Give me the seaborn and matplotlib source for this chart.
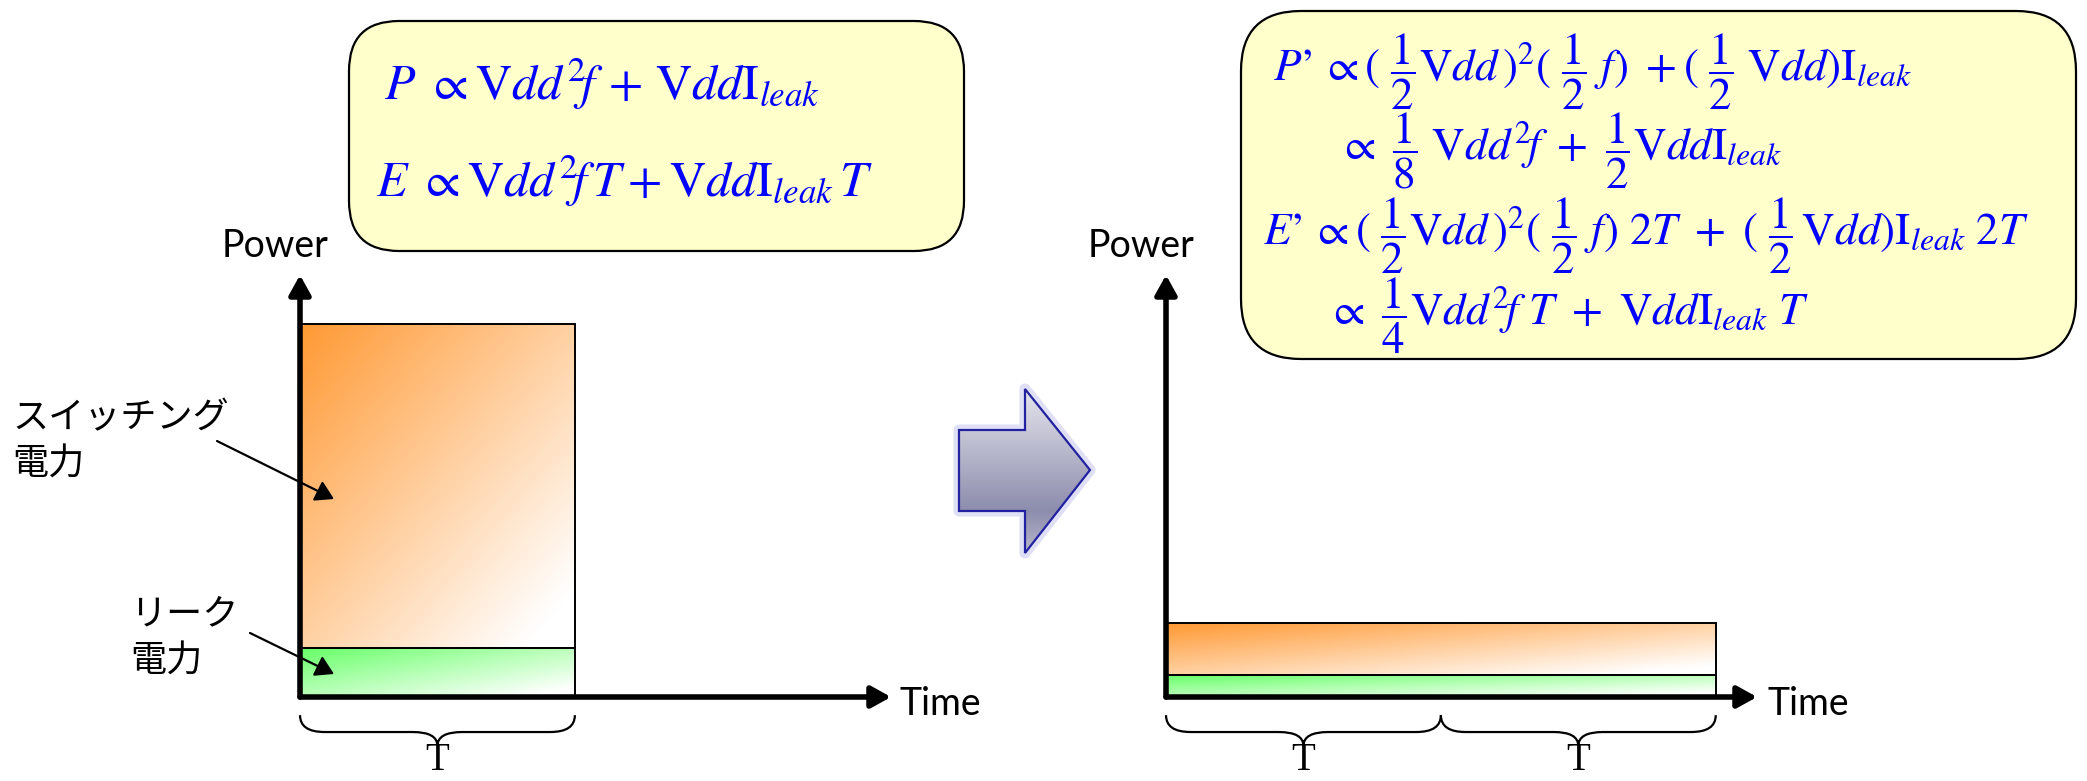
import numpy as np
import matplotlib.pyplot as plt
import matplotlib.transforms as mtransforms
import seaborn as sns
from matplotlib.patches import FancyBboxPatch, Polygon, PathPatch
from matplotlib.path import Path

sns.set_theme(style="white")
plt.rcParams['font.family'] = ['Lato', 'Noto Sans CJK JP', 'DejaVu Sans']
plt.rcParams['mathtext.fontset'] = 'stix'

# power in arbitrary units, time in units of T
durations = [1.0, 2.0]
switching_power = [6.6, 1.05]
leak_power = [1.0, 0.45]
brace_spans = [[(0, 1)], [(0, 1), (1, 2)]]
brace_label = 'T'
x_max = 2.15
y_max = 8.6

switch_label = ['スイッチング', '電力']
leak_label = ['リーク', '電力']

formulas_left = [
    r"$P\ \propto \mathrm{V}dd^2\!f\, +\, \mathrm{V}dd\mathrm{I}_{leak}$",
    r"$E\ \propto \mathrm{V}dd^2\!f\,T +\mathrm{V}dd\mathrm{I}_{leak}\,T$",
]
formulas_right = [
    r"$P’\,\propto(\ \dfrac{1}{2}\mathrm{V}dd\,)^2(\ \dfrac{1}{2}\ f)\ +(\ \dfrac{1}{2}\ \mathrm{V}dd)\mathrm{I}_{leak}$",
    r"$\propto\ \dfrac{1}{8}\ \mathrm{V}dd^2\!f\ +\ \dfrac{1}{2}\mathrm{V}dd\mathrm{I}_{leak}$",
    r"$E’\,\propto(\ \dfrac{1}{2}\mathrm{V}dd\,)^2(\ \dfrac{1}{2}\ f)\ 2T\ +\ (\ \dfrac{1}{2}\,\mathrm{V}dd)\mathrm{I}_{leak}\ 2T$",
    r"$\propto\ \dfrac{1}{4}\mathrm{V}dd^2\!f\ T\ +\ \mathrm{V}dd\mathrm{I}_{leak}\ T$",
]

ORANGE = np.array([1.0, 0.60, 0.20])
GREEN = np.array([0.40, 1.0, 0.40])
WHITE = np.array([1.0, 1.0, 1.0])

W, H = 2087, 781
fig = plt.figure(figsize=(W / 100, H / 100), dpi=100)


def grad_fill(ax, x0, y0, w, h, c0):
    u = np.linspace(0, 1, 200)[None, :]
    v = np.linspace(0, 1, 200)[:, None]
    t = np.clip((u + v) / 2 * 1.1, 0, 1)
    img = c0 + (WHITE - c0) * t[..., None]
    ax.imshow(img, extent=(x0, x0 + w, y0, y0 + h), origin='upper',
              aspect='auto', zorder=2, interpolation='bilinear')


def brace(ax, xa, xb, r=0.09):
    trans = mtransforms.blended_transform_factory(ax.transData, ax.transAxes)
    ya, yb, yc = -0.043, -0.083, -0.116
    xm = (xa + xb) / 2
    verts = [(xa, ya), (xa, yb), (xa + r, yb), (xm - r, yb), (xm, yb), (xm, yc),
             (xm, yb), (xm + r, yb), (xb - r, yb), (xb, yb), (xb, ya)]
    codes = [Path.MOVETO, Path.CURVE3, Path.CURVE3, Path.LINETO, Path.CURVE3, Path.CURVE3,
             Path.CURVE3, Path.CURVE3, Path.LINETO, Path.CURVE3, Path.CURVE3]
    ax.add_patch(PathPatch(Path(verts, codes), transform=trans, fill=False,
                           lw=1.6, color='black', clip_on=False))
    ax.text(xm, -0.174, brace_label, transform=trans, ha='center', va='baseline',
            fontsize=28, family='Liberation Serif', color='black', clip_on=False)


chart_left = [300, 1166]
for i in range(2):
    ax = fig.add_axes([chart_left[i] / W, 84 / H, 591 / W, 422 / H])
    grad_fill(ax, 0, leak_power[i], durations[i], switching_power[i], ORANGE)
    grad_fill(ax, 0, 0, durations[i], leak_power[i], GREEN)
    ax.bar([0], [leak_power[i]], width=durations[i], align='edge',
           facecolor='none', edgecolor='black', lw=1.4, zorder=3)
    ax.bar([0], [switching_power[i]], bottom=[leak_power[i]], width=durations[i],
           align='edge', facecolor='none', edgecolor='black', lw=1.4, zorder=3)
    ax.set_xlim(0, x_max)
    ax.set_ylim(0, y_max)
    ax.set_axis_off()
    for tip in [(0, 1), (1, 0)]:
        ax.annotate('', xy=tip, xytext=(0, 0), xycoords='axes fraction',
                    annotation_clip=False,
                    arrowprops=dict(arrowstyle='-|>,head_length=0.45,head_width=0.25',
                                    lw=4, color='black', shrinkA=0, shrinkB=0,
                                    mutation_scale=26))
    for xa, xb in brace_spans[i]:
        brace(ax, xa, xb)

# overlay in pixel coordinates for labels, boxes and the block arrow
ov = fig.add_axes([0, 0, 1, 1], zorder=5)
ov.set_xlim(0, W)
ov.set_ylim(H, 0)
ov.axis('off')
ov.patch.set_visible(False)

for cx in [275, 1141]:
    ov.text(cx, 257, 'Power', ha='center', va='baseline', fontsize=27, color='black')
for lx in [900, 1767]:
    ov.text(lx, 715, 'Time', ha='left', va='baseline', fontsize=27, color='black')

jp = dict(ha='left', va='center', fontsize=26, family=['Noto Sans CJK JP', 'DejaVu Sans'],
          color='black')
ov.text(12, 418, switch_label[0], **jp)
ov.text(12, 465, switch_label[1], **jp)
ov.text(130, 614, leak_label[0], **jp)
ov.text(130, 662, leak_label[1], **jp)
arr = dict(arrowstyle='-|>,head_length=0.5,head_width=0.3', lw=1.6, color='black',
           shrinkA=0, shrinkB=0, mutation_scale=22)
ov.annotate('', xy=(334, 499), xytext=(217, 441), arrowprops=arr)
ov.annotate('', xy=(334, 674), xytext=(250, 633), arrowprops=arr)

# formula boxes
for (x0, y0, x1, y1, rs) in [(349, 21, 964, 251, 50), (1241, 11, 2076, 359, 60)]:
    ov.add_patch(FancyBboxPatch((x0, y0), x1 - x0, y1 - y0,
                                boxstyle=f"round,pad=0,rounding_size={rs}",
                                facecolor='#FFFFCC', edgecolor='black', lw=1.6))

for (x, y), s in zip([(384, 100), (376, 197)], formulas_left):
    ov.text(x, y, s, color='#0000FF', fontsize=36, ha='left', va='baseline')
for (x, y), s in zip([(1273, 82), (1338, 160), (1263, 246), (1327, 326)], formulas_right):
    ov.text(x, y, s, color='#0000FF', fontsize=32.5, ha='left', va='baseline')

# block arrow
verts = [(959, 430), (1025, 430), (1025, 389), (1090, 470), (1025, 553), (1025, 511), (959, 511)]
ov.add_patch(Polygon(verts, closed=True, fill=False, edgecolor='#c0c0ee', lw=8, alpha=0.5,
                     joinstyle='round'))
shape = Polygon(verts, closed=True, facecolor='none', edgecolor='#2222a0', lw=1.6, zorder=3)
ov.add_patch(shape)
ys = np.linspace(389, 553, 200)
stops_y = [389, 511, 553]
cols = np.array([[0.90, 0.90, 0.93], [0.55, 0.55, 0.68], [0.72, 0.72, 0.80]])
grad = np.stack([np.interp(ys, stops_y, cols[:, k]) for k in range(3)], axis=-1)
img = np.repeat(grad[:, None, :], 20, axis=1)
im = ov.imshow(img, extent=(959, 1090, 553, 389), origin='upper', aspect='auto', zorder=2)
im.set_clip_path(shape)
ov.set_xlim(0, W)
ov.set_ylim(H, 0)

fig.savefig('out.png', dpi=100)
